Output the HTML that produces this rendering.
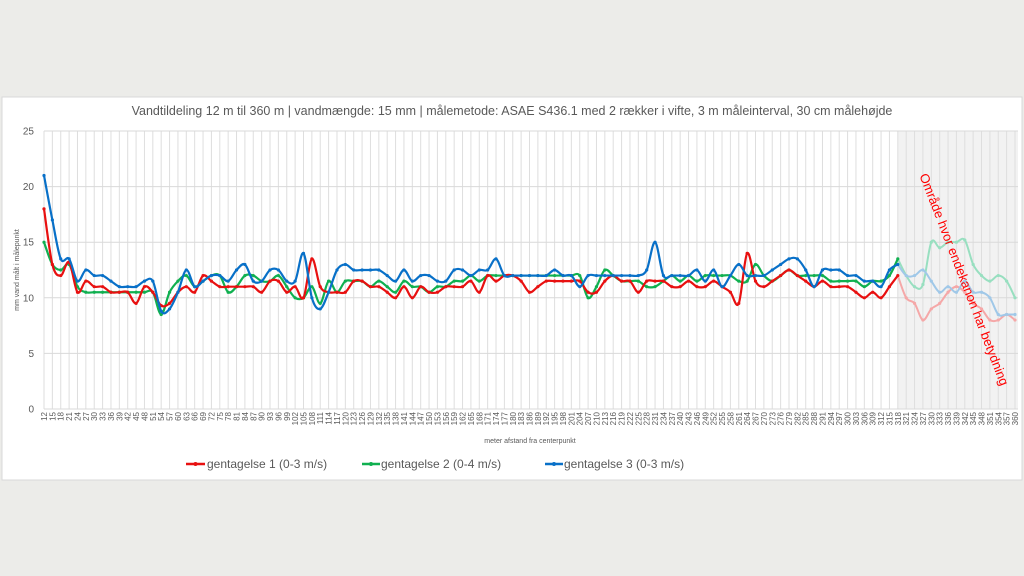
<!DOCTYPE html>
<html><head><meta charset="utf-8"><style>
body{margin:0;background:#ecece9;width:1024px;height:576px;overflow:hidden;font-family:"Liberation Sans",sans-serif}
svg{position:absolute;left:0;top:0}
</style></head><body>
<svg width="1024" height="576" id="chart">
<rect x="2" y="97" width="1020" height="383" fill="#fff" stroke="#d9d9d9"/>
<text x="512" y="115" text-anchor="middle" font-size="12.5" fill="#595959">Vandtildeling 12 m til 360 m | vandmængde: 15 mm | målemetode: ASAE S436.1 med 2 rækker i vifte, 3 m måleinterval, 30 cm målehøjde</text>
<g id="grid"></g><g id="series"></g><g id="axes"></g>
<text transform="translate(19,270) rotate(-90)" text-anchor="middle" font-size="7" fill="#595959">mm vand målt i målepunkt</text>
<text x="530" y="443" text-anchor="middle" font-size="7" fill="#595959">meter afstand fra centerpunkt</text>
<text transform="translate(960,281) rotate(68.9)" text-anchor="middle" font-size="13" fill="#ff0000">Område hvor endekanon har betydning</text>
<g>
<g><line x1="186" y1="464" x2="205" y2="464" stroke="#e81010" stroke-width="2.5"/><circle cx="195.5" cy="464" r="2" fill="#e81010"/><text x="207" y="468" font-size="12" fill="#595959">gentagelse 1 (0-3 m/s)</text></g>
<g><line x1="362" y1="464" x2="380" y2="464" stroke="#10b050" stroke-width="2.5"/><circle cx="371" cy="464" r="2" fill="#10b050"/><text x="381" y="468" font-size="12" fill="#595959">gentagelse 2 (0-4 m/s)</text></g>
<g><line x1="545" y1="464" x2="563" y2="464" stroke="#0870c8" stroke-width="2.5"/><circle cx="554" cy="464" r="2" fill="#0870c8"/><text x="564" y="468" font-size="12" fill="#595959">gentagelse 3 (0-3 m/s)</text></g>
</g>
</svg>
<script>
const yTicks=[0,5,10,15,20,25];
const shadeStartIndex=102;
const s1=[18,13,12,13.2,10.5,11.5,11,11,10.5,10.5,
10.5,9.5,11,10.5,9.3,9.5,10.5,11,10.5,12,
11.5,11,11,11,11,11,10.5,11.5,11.5,10.5,
11,10,13.5,11,10.5,10.5,10.5,11.5,11.5,11,
11,10.5,10,11,10,11,10.5,10.5,11,11,
11,11.5,10.5,12,11.5,12,12,11.5,10.5,11,
11.5,11.5,11.5,11.5,11.5,10.5,10.5,11.5,12,11.5,
11.5,10.5,11.5,11.5,11.5,11,11,11.5,11,11,
11.5,11,10.5,9.5,14,11.5,11,11.5,12,12.5,
12,11.5,11,11.5,11,11,11,10.5,10,10.5,10,11,12,
10,9.5,8,9,9.5,10.5,11,10.5,9.5,9,8,8,8.5,8];
const s2=[15,13,12.5,13,11,10.5,10.5,10.5,10.5,10.5,
10.5,10.5,10.5,10.5,8.5,10.5,11.5,12,11,11.5,
12,12,10.5,11,12,12,11.5,11.5,12,11,
10,10,11,9.5,11.5,10.5,11.5,11.5,11.5,11,
11.5,11,10.5,11.5,11,11,10.5,11,11,11.5,
11.5,12,11.5,12,12,12,12,12,12,12,
12,12,12,12,12,10,11,12.5,12,11.5,
11.5,11.5,11,11,11.5,12,11.5,12,11.5,12,
12,12,12,11.5,11.5,13,12,11.5,12,12.5,
12,12,12,12,11.5,11.5,11.5,11.5,11,11.5,11.5,12,13.5,
12,11,11.2,15,14.5,15,15,15.2,13,12,11.5,12,11.5,10];
const s3=[21,17,13.5,13.5,11.5,12.5,12,12,11.5,11,
11,11,11.5,11.5,8.8,9,10.5,12.5,11,11.5,
12,12,11.5,12.5,13,11.5,11.5,12.5,12.5,11.5,
11.5,14,10,9,10.5,12.5,13,12.5,12.5,12.5,
12.5,12,11.5,12.5,11.5,12,12,11.5,11.5,12.5,
12.5,12,12.5,12.5,13.5,12,12,12,12,12,
12,12.5,12,12,11,12,12,12,12,12,
12,12,12.5,15,12,12,12,12,12.5,11.5,
12.5,11,12,13,12,12,12,12.5,13,13.5,
13.5,12.5,11,12.5,12.5,12.5,12,12,11.5,11.5,11,12.5,13,
12,12,12.5,11.5,10.5,11,10.5,11.5,10.5,10.5,10,8.5,8.5,8.5];
const categories=[];for(let m=12;m<=360;m+=3)categories.push(m);
const X0=44,X1=1015,Y0=409,Y1=131;
const n=categories.length;
const xs=i=>X0+(X1-X0)*i/(n-1);
const ys=v=>Y0-(Y0-Y1)*v/25;
const NS='http://www.w3.org/2000/svg';
function mk(tag,attrs,parent){const e=document.createElementNS(NS,tag);for(const k in attrs)e.setAttribute(k,attrs[k]);parent.appendChild(e);return e;}
const grid=document.getElementById('grid'),axes=document.getElementById('axes'),ser=document.getElementById('series');
const sh=mk('rect',{x:xs(shadeStartIndex),y:Y1,width:1018-xs(shadeStartIndex),height:Y0-Y1,fill:'#f2f2f2'},grid);


categories.forEach((c,i)=>{
 const l=mk('line',{x1:xs(i),x2:xs(i),y1:Y1,y2:Y0,stroke:'#dedede','stroke-width':1},grid);
 
 
 const t=mk('text',{transform:`translate(${xs(i)+3},412) rotate(-90)`,'text-anchor':'end','font-size':'8',fill:'#595959'},axes);
 
 
 t.textContent=c;
});
yTicks.forEach(v=>{
 const l=mk('line',{x1:X0,x2:1018,y1:ys(v),y2:ys(v),stroke:'#d9d9d9','stroke-width':1},grid);
 
 
 const t=mk('text',{x:34,y:ys(v)+3.5,'text-anchor':'end','font-size':'10',fill:'#595959'},axes);
 
 
 t.textContent=v;
});
function curve(pts){let d=`M${pts[0][0]},${pts[0][1]}`;for(let i=0;i<pts.length-1;i++){const p0=pts[i-1]||pts[i],p1=pts[i],p2=pts[i+1],p3=pts[i+2]||p2;
 const c1=[p1[0]+(p2[0]-p0[0])/6,p1[1]+(p2[1]-p0[1])/6],c2=[p2[0]-(p3[0]-p1[0])/6,p2[1]-(p3[1]-p1[1])/6];
 d+=`C${c1[0]},${c1[1]} ${c2[0]},${c2[1]} ${p2[0]},${p2[1]}`;}return d;}
function draw(vals,color,light,name){
 const pts=vals.map((v,i)=>[xs(i),ys(v)]);
 const a=mk('path',{d:curve(pts.slice(shadeStartIndex)),fill:'none',stroke:light,'stroke-width':2},ser);
 
 
 const b=mk('path',{d:curve(pts.slice(0,shadeStartIndex+1)),fill:'none',stroke:color,'stroke-width':2.2},ser);
 
 
 pts.forEach((p,i)=>{const c=mk('circle',{cx:p[0],cy:p[1],r:1.6,fill:i>shadeStartIndex?light:color},ser);
  
  });
}
draw(s2,'#10b050','#98dfc0','series-2');
draw(s1,'#e81010','#f5a8a8','series-1');
draw(s3,'#0870c8','#a0c8e8','series-3');
</script>
</body></html>
